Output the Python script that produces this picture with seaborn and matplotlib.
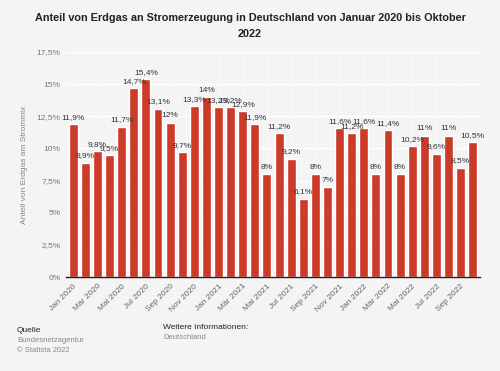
import numpy as np
import matplotlib.pyplot as plt
import seaborn as sns
import pandas as pd

# monthly share of natural gas in German power generation (%)
months = ["Jan", "Feb", "Mär", "Apr", "Mai", "Jun", "Jul", "Aug", "Sep", "Okt", "Nov", "Dez"]
years = ["2020", "2021", "2022"]
labels = [f"{m} {y}" for y in years for m in months][:34]
values = [11.9, 8.9, 9.8, 9.5, 11.7, 14.7, 15.4, 13.1, 12, 9.7, 13.3, 14,
          13.2, 13.2, 12.9, 11.9, 8, 11.2, 9.2, 6.1, 8, 7, 11.6, 11.2,
          11.6, 8, 11.4, 8, 10.2, 11, 9.6, 11, 8.5, 10.5]
yticks = [0, 2.5, 5, 7.5, 10, 12.5, 15, 17.5]

df = pd.DataFrame({"monat": labels, "anteil": values})

sns.set_style("white")
plt.rcParams["font.family"] = ["Liberation Sans", "DejaVu Sans"]
bg = "#f4f4f4"

fig = plt.figure(figsize=(5, 3.71), dpi=100, facecolor=bg)
ax = fig.add_axes([0.132, 0.253, 0.828, 0.607])
ax.set_facecolor(bg)

sns.barplot(data=df, x="monat", y="anteil", color="#cc3a28", saturation=1,
            width=0.74, ax=ax)

# value labels above each bar
for i, v in enumerate(values):
    txt = f"{v:g}".replace(".", ",") + "%"
    ax.text(i, v + 0.25, txt, ha="center", va="bottom", fontsize=6,
            color="#333333")

ax.set_ylim(0, 17.5)
ax.set_yticks(yticks)
ax.set_yticklabels([f"{t:g}".replace(".", ",") + "%" for t in yticks],
                   fontsize=6, color="#777777")
ax.yaxis.grid(True, color="#ffffff", linewidth=1)
ax.xaxis.grid(True, color="#fafafa", linewidth=0.6)
ax.set_axisbelow(True)
ax.set_xlim(-0.6, len(values) - 0.4)

ax.set_xticks(range(0, len(labels), 2))
ax.set_xticklabels(labels[::2], rotation=45, ha="right",
                   rotation_mode="anchor", fontsize=6, color="#666666")
ax.tick_params(axis="both", length=0, pad=4)
ax.set_xlabel("")
ax.set_ylabel("Anteil von Erdgas am Strommix", fontsize=6, color="#888888",
              labelpad=6)

for s in ["top", "right", "left"]:
    ax.spines[s].set_visible(False)
ax.spines["bottom"].set_color("#222222")
ax.spines["bottom"].set_linewidth(1)

fig.text(0.5, 0.965, "Anteil von Erdgas an Stromerzeugung in Deutschland von Januar 2020 bis Oktober\n2022",
         ha="center", va="top", fontsize=7.8, fontweight="bold", color="#222222",
         linespacing=1.7)

fig.text(0.034, 0.105, "Quelle", fontsize=6, color="#222222")
fig.text(0.034, 0.078, "Bundesnetzagentur", fontsize=5.5, color="#888888")
fig.text(0.034, 0.052, "© Statista 2022", fontsize=5.5, color="#888888")
fig.text(0.326, 0.113, "Weitere Informationen:", fontsize=6, color="#222222")
fig.text(0.326, 0.087, "Deutschland", fontsize=5.5, color="#888888")

fig.savefig("out.png", dpi=100, facecolor=bg)
